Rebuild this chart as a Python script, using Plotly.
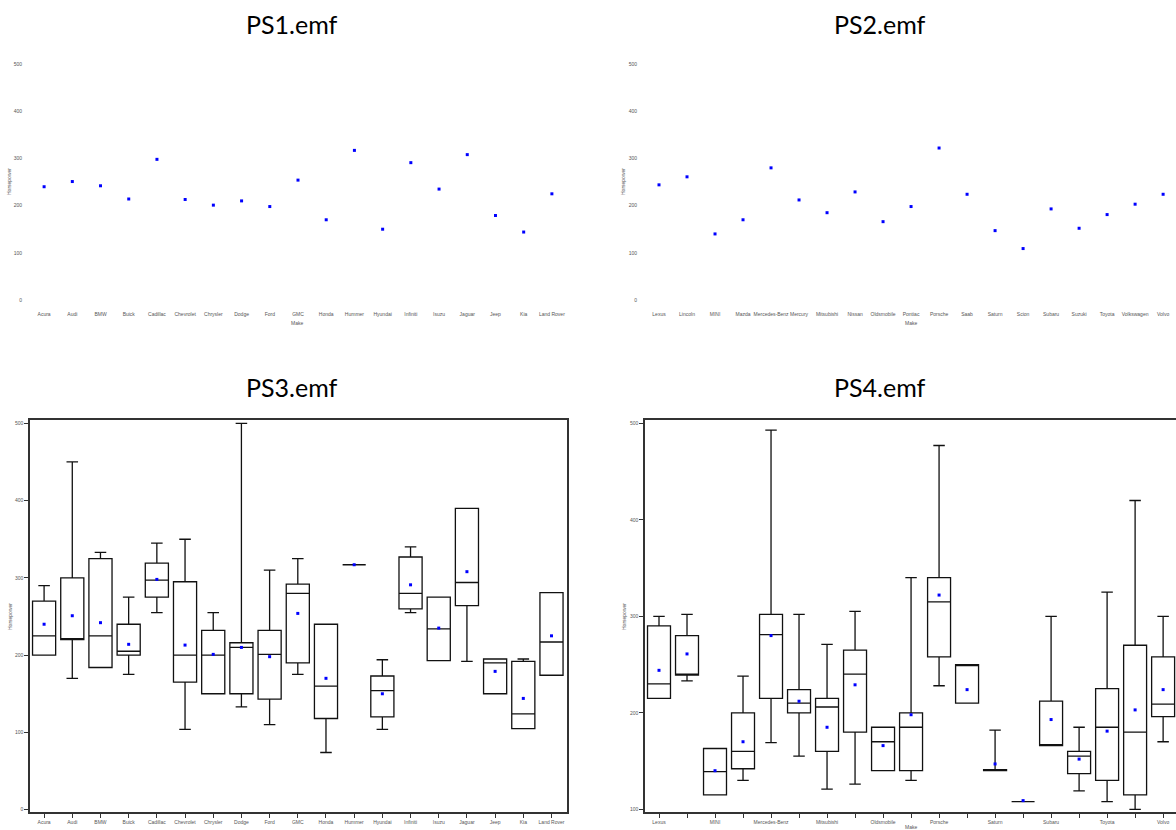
import plotly.graph_objects as go

# ---------------- data ----------------
makes_a = ["Acura", "Audi", "BMW", "Buick", "Cadillac", "Chevrolet", "Chrysler", "Dodge", "Ford", "GMC",
           "Honda", "Hummer", "Hyundai", "Infiniti", "Isuzu", "Jaguar", "Jeep", "Kia", "Land Rover"]
mean_a = [240, 251, 242, 214, 298, 213, 201, 210, 198, 254, 170, 317, 150, 291, 235, 308, 179, 144, 225]
low_a = [200, 170, 184, 175, 255, 104, 150, 133, 110, 175, 74, 317, 104, 255, 193, 192, 150, 105, 174]
q1_a = [200, 220, 184, 200, 275, 165, 150, 150, 143, 190, 118, 317, 120, 260, 193, 264, 150, 105, 174]
med_a = [225, 220, 225, 205, 297, 200, 200, 210, 201, 280, 160, 317, 154, 280, 234, 294, 190, 124, 217]
q3_a = [270, 300, 325, 240, 319, 295, 232, 216, 232, 292, 240, 317, 173, 327, 275, 390, 195, 192, 281]
high_a = [290, 450, 333, 275, 345, 350, 255, 500, 310, 325, 240, 317, 194, 340, 275, 390, 195, 195, 281]

makes_b = ["Lexus", "Lincoln", "MINI", "Mazda", "Mercedes-Benz", "Mercury", "Mitsubishi", "Nissan",
           "Oldsmobile", "Pontiac", "Porsche", "Saab", "Saturn", "Scion", "Subaru", "Suzuki", "Toyota",
           "Volkswagen", "Volvo"]
mean_b = [244, 261, 140, 170, 280, 212, 185, 229, 166, 198, 322, 224, 147, 109, 193, 152, 181, 203, 224]
low_b = [215, 233, 115, 130, 169, 155, 121, 126, 140, 130, 228, 210, 140, 108, 166, 119, 108, 100, 170]
q1_b = [215, 239, 115, 142, 215, 200, 160, 180, 140, 140, 258, 210, 140, 108, 166, 137, 130, 115, 196]
med_b = [230, 240, 139, 160, 281, 210, 206, 240, 170, 185, 315, 250, 141, 108, 166, 155, 185, 180, 209]
q3_b = [290, 280, 163, 200, 302, 224, 215, 265, 185, 200, 340, 250, 141, 108, 212, 160, 225, 270, 258]
high_b = [300, 302, 163, 238, 493, 302, 271, 305, 185, 340, 477, 250, 182, 108, 300, 185, 325, 420, 300]

titles = ["PS1.emf", "PS2.emf", "PS3.emf", "PS4.emf"]
y_ticks_full = [0, 100, 200, 300, 400, 500]
y_ticks_b = [100, 200, 300, 400, 500]

# ---------------- figure ----------------
W, H = 1176, 830
fig = go.Figure()

BLUE = "#0000ff"
mk = dict(symbol="square", size=3, color=BLUE, line=dict(width=0))

# PS1 means
fig.add_trace(go.Scatter(x=makes_a, y=mean_a, mode="markers", marker=mk, xaxis="x", yaxis="y"))
# PS2 means
fig.add_trace(go.Scatter(x=makes_b, y=mean_b, mode="markers", marker=mk, xaxis="x2", yaxis="y2"))
# PS3 boxes
box_style = dict(line=dict(color="#111111", width=1.3), fillcolor="rgba(0,0,0,0)",
                 whiskerwidth=0.5, width=0.82, boxpoints=False)
fig.add_trace(go.Box(x=makes_a, q1=q1_a, median=med_a, q3=q3_a, lowerfence=low_a, upperfence=high_a,
                     xaxis="x3", yaxis="y3", **box_style))
fig.add_trace(go.Scatter(x=makes_a, y=mean_a, mode="markers", marker=mk, xaxis="x3", yaxis="y3"))
# PS4 boxes
fig.add_trace(go.Box(x=makes_b, q1=q1_b, median=med_b, q3=q3_b, lowerfence=low_b, upperfence=high_b,
                     xaxis="x4", yaxis="y4", **box_style))
fig.add_trace(go.Scatter(x=makes_b, y=mean_b, mode="markers", marker=mk, xaxis="x4", yaxis="y4"))


def px_x(p):
    return p / W


def px_y(p):
    return 1 - p / H


tickfont = dict(family="Liberation Sans, Arial", size=5, color="#555555")

# top panels: no lines, only labels
top_x = dict(type="category", showline=False, showgrid=False, zeroline=False, ticks="outside",
             ticklen=2, tickcolor="rgba(0,0,0,0)", tickfont=tickfont, tickangle=0)
top_y = dict(showline=False, showgrid=False, zeroline=False, ticks="outside", ticklen=6,
             tickcolor="rgba(0,0,0,0)", tickfont=tickfont, tickvals=y_ticks_full,
             range=[-14.8, 510.6])

bot_line = dict(showline=True, linecolor="#333333", linewidth=1.5, showgrid=False, zeroline=False,
                ticks="outside", ticklen=4, tickwidth=1.2, tickcolor="#333333", tickfont=tickfont)

layout = dict(
    width=W, height=H, margin=dict(l=0, r=0, t=0, b=0),
    paper_bgcolor="white", plot_bgcolor="white", showlegend=False,
    xaxis=dict(top_x, domain=[px_x(30), px_x(566)], range=[-0.5, 18.5], anchor="y"),
    yaxis=dict(top_y, domain=[px_y(307), px_y(59)], anchor="x"),
    xaxis2=dict(top_x, domain=[px_x(645), 1], range=[-0.5, 18.46], anchor="y2"),
    yaxis2=dict(top_y, domain=[px_y(307), px_y(59)], anchor="x2"),
    xaxis3=dict(bot_line, type="category", mirror=True, tickangle=0, domain=[px_x(30), px_x(567)],
                range=[-0.5, 18.55], anchor="y3"),
    yaxis3=dict(bot_line, mirror=True, domain=[px_y(812), px_y(420)], range=[-3, 504.3],
                tickvals=y_ticks_full, anchor="x3"),
    xaxis4=dict(bot_line, type="category", mirror=True, tickangle=0, domain=[px_x(645), 1],
                range=[-0.5, 18.46], tickvals=makes_b,
                ticktext=[m if i % 2 == 0 else "" for i, m in enumerate(makes_b)], anchor="y4"),
    yaxis4=dict(bot_line, mirror=False, domain=[px_y(812), px_y(420)], range=[97.2, 503.4],
                tickvals=y_ticks_b, anchor="x4"),
)
fig.update_layout(**layout)

title_font = dict(family="Lato, Open Sans, sans-serif", size=25, color="#000000")
small_font = dict(family="Liberation Sans, Arial", size=5, color="#555555")
ann = []
for t, (cx, cy) in zip(titles, [(292, 24), (880, 24), (292, 387), (880, 387)]):
    ann.append(dict(text=t, x=px_x(cx), y=px_y(cy), xref="paper", yref="paper", showarrow=False,
                    font=title_font, xanchor="center", yanchor="middle"))
# axis titles
for cx, cy in [(297, 323), (911, 323), (911, 827)]:
    ann.append(dict(text="Make", x=px_x(cx), y=px_y(cy), xref="paper", yref="paper", showarrow=False,
                    font=small_font, xanchor="center", yanchor="middle"))
for cx, cy in [(9, 182), (623, 182), (10, 617), (624, 617)]:
    ann.append(dict(text="Horsepower", x=px_x(cx), y=px_y(cy), xref="paper", yref="paper",
                    showarrow=False, font=small_font, textangle=-90, xanchor="center",
                    yanchor="middle"))
fig.update_layout(annotations=ann)

fig.write_html("out.html", config={"displayModeBar": False},
               post_script="document.body.style.margin='0';")
